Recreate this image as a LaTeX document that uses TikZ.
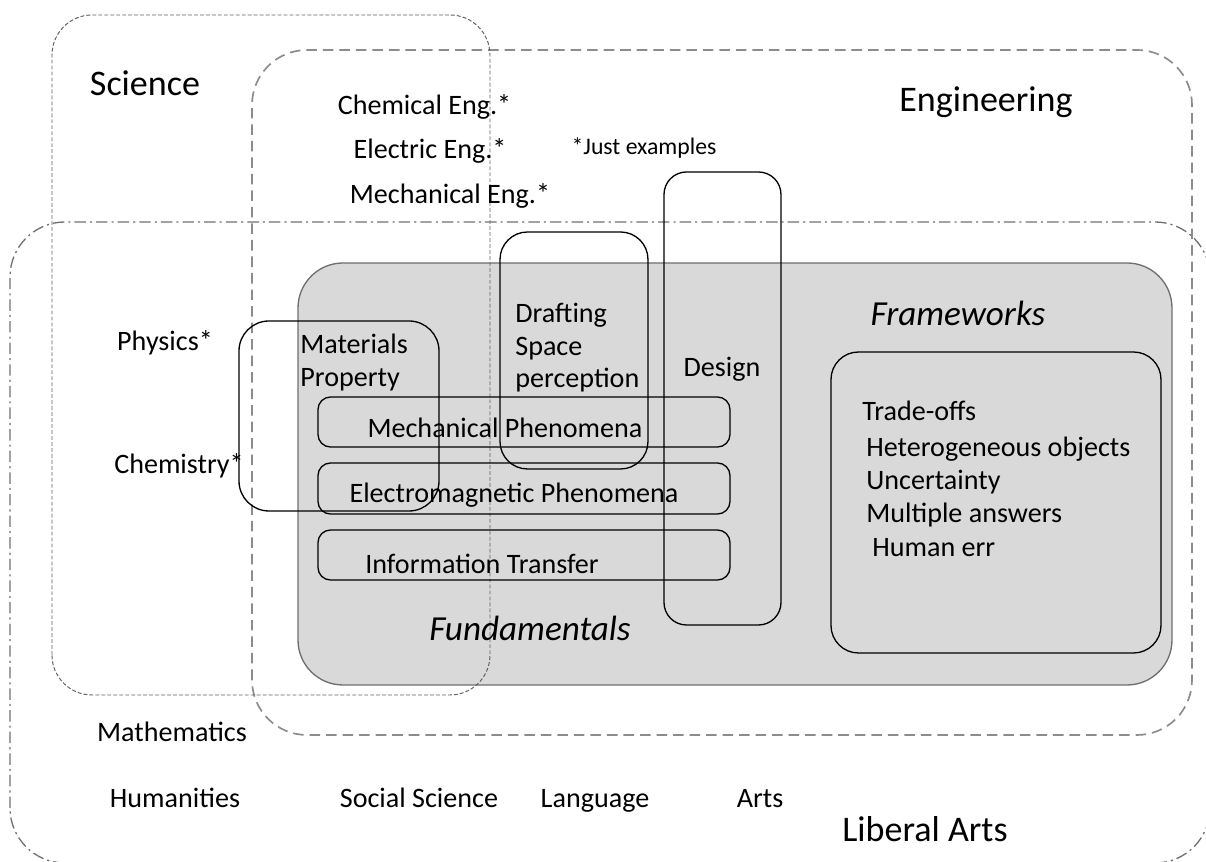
\documentclass[tikz,border=0pt]{standalone}
\usepackage{fontspec}
\setmainfont{Carlito}
\definecolor{corefill}{RGB}{217,217,217}
\definecolor{coreline}{RGB}{110,110,110}
\definecolor{sciline}{RGB}{95,95,95}
\definecolor{engline}{RGB}{140,140,140}
\definecolor{artsline}{RGB}{112,112,112}

\begin{document}
\begin{tikzpicture}[
  field/.style={font=\fontsize{20.5}{24}\selectfont, inner sep=0pt, text height=15.4pt, text depth=0pt},
  item/.style={font=\fontsize{16}{18.5}\selectfont, inner sep=0pt, text height=12pt, text depth=0pt},
  lines/.style={font=\fontsize{16}{18.5}\selectfont, inner sep=0pt, align=left},
  heading/.style={font=\fontsize{20}{24}\selectfont\itshape, inner sep=0pt, text height=15pt, text depth=0pt},
  note/.style={font=\fontsize{13.5}{16}\selectfont, inner sep=0pt, text height=10.1pt, text depth=0pt},
  sciencebox/.style={draw=sciline, line width=0.55pt, dash pattern=on 2.2pt off 1.2pt},
  engbox/.style={draw=engline, line width=0.95pt, dash pattern=on 6pt off 3.4pt},
  artsbox/.style={draw=artsline, line width=0.75pt, dash pattern=on 6.5pt off 2.3pt on 1.2pt off 2.3pt},
  corebox/.style={draw=coreline, fill=corefill, line width=0.75pt},
  topic/.style={draw=black, line width=0.75pt}
]
\useasboundingbox (0,0) rectangle (24.12,17.24);

% Shared core.
\draw[corebox, rounded corners=0.9cm] (5.96,3.54) rectangle (23.44,11.98);

% Fields.
\draw[artsbox, rounded corners=1.1cm] (0.20,-0.02) rectangle (24.20,12.80);
\draw[engbox, rounded corners=1.1cm] (5.04,2.54) rectangle (23.84,16.24);
\draw[sciencebox, rounded corners=0.8cm] (1.04,3.34) rectangle (9.80,16.94);

\node[field] (science) at (2.90,15.60) {Science};
\node[field] (engineering) at (19.72,15.28) {Engineering};
\node[field] (liberalarts) at (18.50,0.68) {Liberal Arts};

% Examples of each field.
\node[item] (chemeng) at (8.49,15.16) {Chemical Eng.*};
\node[item] (eleceng) at (8.60,14.28) {Electric Eng.*};
\node[item] (mecheng) at (9.00,13.38) {Mechanical Eng.*};
\node[note] (examples) at (12.88,14.32) {*Just examples};
\node[item] (physics) at (3.30,10.44) {Physics*};
\node[item] (chemistry) at (3.58,7.98) {Chemistry*};
\node[item] (math) at (3.44,2.62) {Mathematics};
\node[item] (humanities) at (3.50,1.30) {Humanities};
\node[item] (socsci) at (8.38,1.30) {Social Science};
\node[item] (language) at (11.90,1.30) {Language};
\node[item] (arts) at (15.20,1.30) {Arts};

% Fundamentals.
\draw[topic, rounded corners=0.6cm] (4.78,7.02) rectangle (8.78,10.82);
\draw[topic, rounded corners=0.55cm] (10.00,7.86) rectangle (12.96,12.60);
\draw[topic, rounded corners=0.45cm] (13.28,4.74) rectangle (15.62,13.80);
\draw[topic, rounded corners=0.25cm] (6.36,8.30) rectangle (14.60,9.30);
\draw[topic, rounded corners=0.25cm] (6.36,6.96) rectangle (14.60,7.98);
\draw[topic, rounded corners=0.25cm] (6.36,5.64) rectangle (14.60,6.64);

\node[lines, anchor=west] (materials) at (6.00,9.99) {Materials\\Property};
\node[lines, anchor=west] (drafting) at (10.30,10.28) {Drafting\\Space\\perception};
\node[item] (design) at (14.44,9.92) {Design};
\node[item] (mechphen) at (10.10,8.70) {Mechanical Phenomena};
\node[item] (emphen) at (10.28,7.40) {Electromagnetic Phenomena};
\node[item] (infotrans) at (9.64,5.98) {Information Transfer};
\node[heading] (fundamentals) at (10.60,4.70) {Fundamentals};

% Frameworks.
\draw[topic, rounded corners=0.55cm] (16.62,4.18) rectangle (23.22,10.20);
\node[heading] (frameworks) at (19.16,11.00) {Frameworks};
\node[item, anchor=west] (tradeoffs) at (17.24,9.04) {Trade-offs};
\node[item, anchor=west] (hetero) at (17.32,8.32) {Heterogeneous objects};
\node[item, anchor=west] (uncertain) at (17.32,7.66) {Uncertainty};
\node[item, anchor=west] (multiple) at (17.32,7.00) {Multiple answers};
\node[item, anchor=west] (humanerr) at (17.44,6.32) {Human err};

\end{tikzpicture}
\end{document}
